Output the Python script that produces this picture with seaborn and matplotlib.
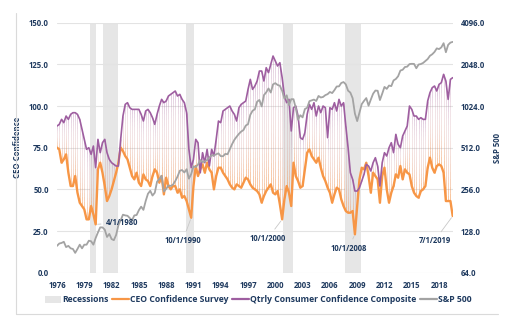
import numpy as np
import pandas as pd
import matplotlib
matplotlib.use("Agg")
import matplotlib.pyplot as plt
import seaborn as sns
from matplotlib.collections import LineCollection
from matplotlib.patches import Patch
from matplotlib.lines import Line2D
from matplotlib.ticker import FixedLocator, FixedFormatter, NullLocator

# ---------------- data (quarterly, 1976Q1 .. 2019Q3) ----------------
ceo_confidence = [
    75, 74, 66, 68,   71, 60, 52, 52,   58, 48, 42, 40,   38, 32, 32, 40,
    35, 29, 62, 66,   60, 52, 43, 46,   50, 55, 60, 66,   75, 73, 70, 68,
    63, 58, 56, 60,   54, 52, 59, 56,   55, 52, 58, 62,   60, 54, 58, 47,
    57, 52, 50, 52,   52, 48, 50, 45,   46, 43, 38, 33,   52, 64, 58, 62,
    65, 60, 66, 62,   60, 50, 58, 63,   63, 60, 58, 56,   53, 51, 50, 53,
    52, 51, 54, 57,   56, 53, 51, 50,   49, 47, 42, 46,   49, 51, 53, 48,
    47, 49, 41, 32,   44, 52, 48, 40,   66, 58, 55, 51,   52, 62, 72, 74,
    70, 68, 66, 69,   63, 58, 55, 51,   48, 42, 47, 51,   50, 44, 40, 37,
    36, 36, 37, 23,   40, 56, 63, 62,   66, 58, 48, 60,   58, 56, 42, 58,
    63, 50, 42, 48,   52, 59, 57, 64,   56, 62, 60, 59,   52, 48, 46, 45,
    49, 50, 52, 63,   69, 63, 60, 64,   65, 64, 60, 43,   43, 43, 34,
]
consumer_composite = [
    88, 89, 92, 90,   94, 92, 95, 96,   96, 95, 92, 86,   80, 74, 75, 71,
    76, 63, 80, 72,   78, 80, 72, 68,   66, 65, 64, 64,   80, 94, 101, 102,
    99, 98, 98, 98,   98, 95, 91, 97,   98, 96, 93, 89,   95, 100, 104, 102,
    103, 106, 107, 108, 109, 106, 107, 104, 102, 96, 74, 63, 68, 80, 78, 60,
    72, 66, 74, 64,   74, 70, 80, 91,   90, 97, 98, 99,   100, 97, 95, 91,
    99, 101, 102, 103, 110, 116, 110, 112, 115, 121, 121, 115, 123, 120, 125, 130,
    127, 124, 126, 117, 106, 102, 104, 85, 99, 100, 94, 81, 80, 84, 95, 101,
    98, 102, 94, 100, 96, 100, 99, 81,  99, 98, 102, 97,  104, 100, 102, 88,
    75, 60, 56, 49,   49, 51, 55, 59,   65, 64, 61, 66,   69, 64, 52, 66,
    72, 70, 75, 78,   72, 83, 77, 75,   82, 85, 88, 100,  98, 94, 94, 92,
    93, 92, 92, 103,  108, 111, 112, 109, 113, 114, 119, 115, 104, 116, 117,
]
sp500 = [
    100, 104, 105, 107,  98, 100, 96, 95,   89, 95, 102, 96,   102, 102, 109, 108,
    102, 114, 125, 136,  136, 131, 116, 122, 112, 110, 120, 141, 153, 168, 166, 165,
    159, 153, 166, 167,  181, 192, 182, 211, 238, 250, 231, 242, 291, 304, 321, 247,
    258, 273, 271, 277,  294, 317, 349, 353, 339, 358, 306, 330, 375, 371, 387, 417,
    403, 408, 417, 435,  451, 450, 459, 466, 445, 444, 462, 459, 500, 544, 584, 615,
    645, 670, 687, 740,  757, 885, 947, 970, 1101, 1133, 1017, 1229, 1286, 1372, 1282, 1469,
    1498, 1454, 1436, 1320, 1160, 1224, 1040, 1148, 1147, 989, 815, 879, 848, 974, 995, 1111,
    1126, 1140, 1114, 1211, 1180, 1191, 1228, 1248, 1294, 1270, 1335, 1418, 1420, 1503, 1526, 1468,
    1322, 1280, 1166, 903, 797, 919, 1057, 1115, 1169, 1030, 1141, 1257, 1325, 1320, 1131, 1257,
    1408, 1362, 1440, 1426, 1569, 1606, 1681, 1848, 1872, 1960, 1972, 2058, 2067, 2063, 1920, 2043,
    2059, 2098, 2168, 2238, 2362, 2423, 2519, 2673, 2640, 2718, 2913, 2506, 2834, 2941, 2977,
]
quarter_pos = [y + q * 0.25 for y in range(1976, 2020) for q in range(4)][:len(ceo_confidence)]

recession_start = [1979.63, 1981.09, 1990.16, 2000.83, 2007.65]
recession_end = [1980.29, 1982.74, 1991.07, 2001.93, 2009.44]

x_ticks = list(range(1976, 2019, 3))
left_ticks = [0, 25, 50, 75, 100, 125, 150]
right_ticks = [64, 128, 256, 512, 1024, 2048, 4096]

annot_labels = ["4/1/1980", "10/1/1990", "10/1/2000", "10/1/2008", "7/1/2019"]
annot_x = [1980.25, 1990.75, 2000.75, 2008.75, 2019.5]

df = pd.DataFrame({"t": quarter_pos, "ceo": ceo_confidence,
                   "cons": consumer_composite, "sp": sp500})

# ---------------- style ----------------
sns.set_style("white")
plt.rcParams["font.family"] = ["Open Sans", "DejaVu Sans"]
NAVY = "#1F3A5F"
ORANGE = "#F79646"
PURPLE = "#9E5EA0"
GRAY = "#A3A3A3"
REC = "#E6E6E6"

W, H = 516, 325
fig = plt.figure(figsize=(W / 100, H / 100), dpi=100)
L, R, T, B = 57, 452.7, 22.7, 272.7
ax = fig.add_axes([L / W, 1 - B / H, (R - L) / W, (B - T) / H])

# recession bands
for s, e in zip(recession_start, recession_end):
    ax.axvspan(s, e, color=REC, lw=0, zorder=0)

# gradient vertical connectors between CEO and consumer series
n_sub = 16
segs, cols = [], []
o = np.array(matplotlib.colors.to_rgb(ORANGE))
p = np.array(matplotlib.colors.to_rgb(PURPLE))
for t, a, b in zip(df["t"], df["ceo"], df["cons"]):
    ys = np.linspace(a, b, n_sub + 1)
    for i in range(n_sub):
        f = (i + 0.5) / n_sub
        c = o * (1 - f) + p * f
        alpha = 0.06 + 0.62 * (1 - f) ** 2.3 + 0.32 * f ** 2.6
        segs.append([(t, ys[i]), (t, ys[i + 1])])
        cols.append((*c, min(alpha, 1)))
ax.add_collection(LineCollection(segs, colors=cols, linewidths=0.6, zorder=1))

sns.lineplot(data=df, x="t", y="ceo", ax=ax, color=ORANGE, lw=1.7, zorder=3)
sns.lineplot(data=df, x="t", y="cons", ax=ax, color=PURPLE, lw=1.2, zorder=3)

ax.set_xlim(1976.0, 2019.5)
ax.set_ylim(0, 150)
ax.yaxis.set_major_locator(FixedLocator(left_ticks))
ax.set_yticklabels([f"{v:.1f}" for v in left_ticks])
ax.xaxis.set_major_locator(FixedLocator(x_ticks))
ax.set_xticklabels([str(v) for v in x_ticks])
ax.grid(axis="y", color="#E3E3E3", lw=0.8)
ax.grid(axis="x", visible=False)
for sp in ax.spines.values():
    sp.set_visible(False)
ax.tick_params(axis="both", length=0, labelsize=5.6, labelcolor=NAVY)
ax.tick_params(axis="y", pad=6)
ax.tick_params(axis="x", pad=6)
for lab in ax.get_xticklabels() + ax.get_yticklabels():
    lab.set_fontweight("bold")
ax.set_xlabel("")
ax.set_ylabel("CEO Confidence", fontsize=5.6, fontweight="bold", color=NAVY)
ax.yaxis.set_label_coords(-(L - 22) / (R - L), 0.5)

# S&P on log2 right axis
ax2 = ax.twinx()
sns.lineplot(data=df, x="t", y="sp", ax=ax2, color=GRAY, lw=1.3, zorder=4)
ax2.set_yscale("log", base=2)
ax2.set_ylim(64, 4096)
ax2.yaxis.set_major_locator(FixedLocator(right_ticks))
ax2.yaxis.set_major_formatter(FixedFormatter([f"{v:.1f}" for v in right_ticks]))
ax2.yaxis.set_minor_locator(NullLocator())
for sp in ax2.spines.values():
    sp.set_visible(False)
ax2.grid(False)
ax2.tick_params(axis="y", length=0, labelsize=5.6, labelcolor=NAVY, pad=6)
for lab in ax2.get_yticklabels():
    lab.set_fontweight("bold")
ax2.set_xlabel("")
ax2.set_ylabel("S&P 500", fontsize=5.6, fontweight="bold", color=NAVY)
ax2.yaxis.set_label_coords(1 + (493 - R) / (R - L), 0.5)
ax2.set_xlim(1976.0, 2019.5)

# annotations at the CEO lows
text_pos = [(1981.35, 30.0, "left"), (1989.85, 19.6, "center"), (1999.2, 20.8, "center"),
            (2008.05, 14.8, "center"), (2017.5, 19.2, "center")]
ceo_lookup = dict(zip(df["t"], df["ceo"]))
for lab, xv, (tx, ty, ha) in zip(annot_labels, annot_x, text_pos):
    ax2.annotate(lab, xy=(xv, 64 * 2 ** (ceo_lookup[xv] / 25)), xycoords="data",
                 xytext=(tx, 64 * 2 ** (ty / 25)), textcoords="data",
                 ha=ha, va="center", fontsize=5.5, color=NAVY, fontweight="bold",
                 arrowprops=dict(arrowstyle="-", color="#C8C8C8", lw=0.6,
                                 shrinkA=1, shrinkB=1.5), zorder=6)

# legend
handles = [Patch(facecolor=REC, edgecolor="none"),
           Line2D([0], [0], color=ORANGE, lw=1.6),
           Line2D([0], [0], color=PURPLE, lw=1.6),
           Line2D([0], [0], color=GRAY, lw=1.6)]
labels = ["Recessions", "CEO Confidence Survey",
          "Qtrly Consumer Confidence Composite", "S&P 500"]
leg = fig.legend(handles, labels, loc="center", bbox_to_anchor=(258 / W, 1 - 300 / H),
                 ncol=4, frameon=False, fontsize=6.2, handlelength=1.9,
                 handletextpad=0.15, columnspacing=0.45, borderpad=0, handleheight=0.7)
for t in leg.get_texts():
    t.set_color(NAVY)
    t.set_fontweight("bold")

# faint chart-area border (left and bottom)
fig.add_artist(Line2D([16 / W, 16 / W], [1 - 13 / H, 1 - 314 / H], color="#DADADA", lw=0.8))
fig.add_artist(Line2D([16 / W, 498 / W], [1 - 314 / H, 1 - 314 / H], color="#DADADA", lw=0.8))

fig.savefig("out.png", dpi=100)
